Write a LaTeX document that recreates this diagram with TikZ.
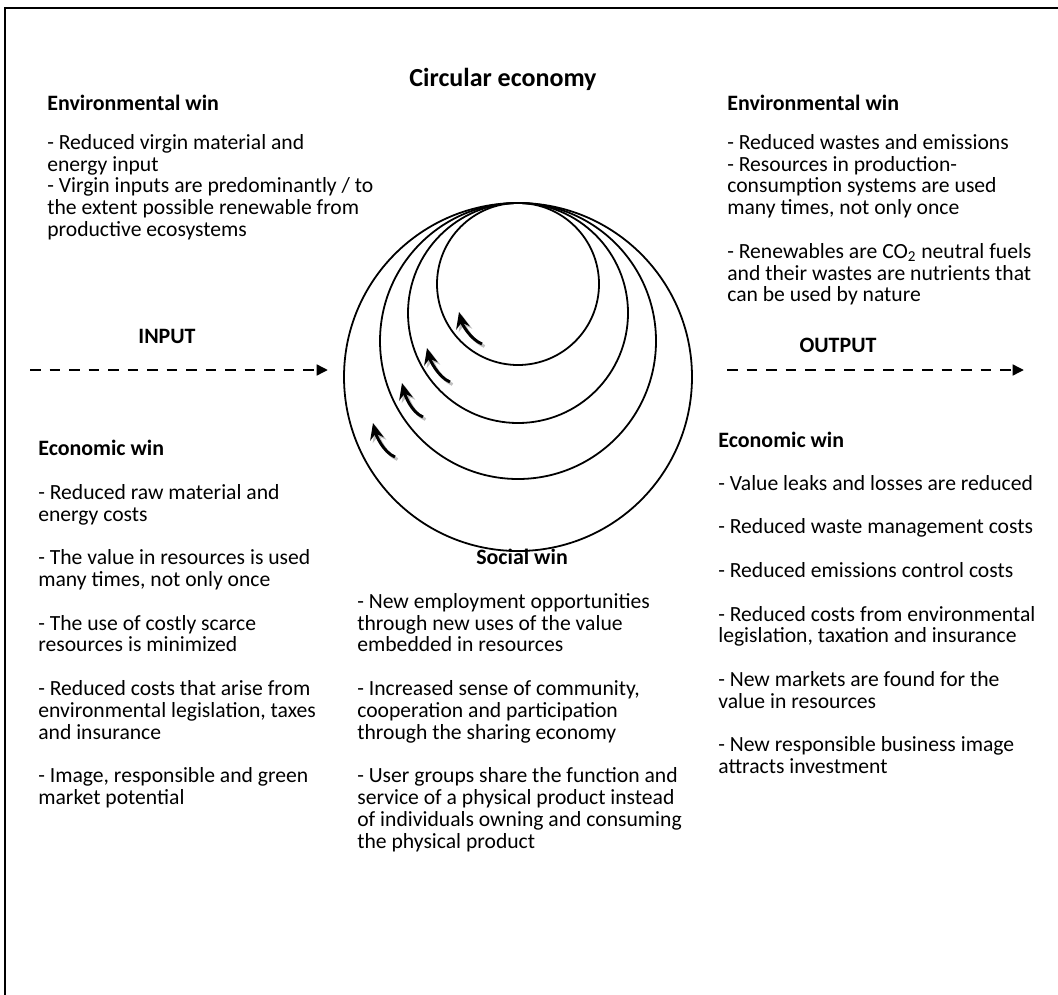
\documentclass[tikz,border=0pt]{standalone}
\usepackage{fontspec}
\setmainfont{Carlito}
\usetikzlibrary{arrows.meta}
\newcommand{\gapline}{\\[13.4pt]}
\begin{document}
\begin{tikzpicture}[x=0.615pt,y=-0.615pt,>=Stealth,
  every node/.style={inner sep=0pt,align=left,font=\fontsize{13.3}{13.4}\selectfont},
  head/.style={font=\fontsize{13.5}{14}\selectfont\bfseries},
  flow/.style={line width=1.8pt,dash pattern=on 6.5pt off 5.5pt,-{Triangle[length=7pt,width=6.5pt]}},
  loopy/.style={line width=1.8pt,-{Stealth[length=10pt,width=8.5pt]}}]
\useasboundingbox (0,0) rectangle (1058,994);
\draw[line width=1.2pt](1070,8)--(5,8)--(5,1000);

\node[font=\fontsize{16}{18}\selectfont\bfseries] (title) at (503,79) {Circular economy};

\node[head,anchor=west] (envL) at (47,103) {Environmental win};
\node[anchor=north west] (envLtxt) at (47,134) {- Reduced virgin material and\\energy input\\- Virgin inputs are predominantly / to\\the extent possible renewable from\\productive ecosystems};

\node[head,anchor=west] (envR) at (727,103) {Environmental win};
\node[anchor=north west] (envRtxt) at (727,134) {- Reduced wastes and emissions\\- Resources in production-\\consumption systems are used\\many times, not only once\gapline- Renewables are CO\textsubscript{2} neutral fuels\\and their wastes are nutrients that\\can be used by nature};

\node[head] (input) at (167,336) {INPUT};
\node[head] (output) at (838,345) {OUTPUT};
\coordinate (inA) at (30,370);
\coordinate (inB) at (328,370);
\coordinate (outA) at (727,370);
\coordinate (outB) at (1024,370);
\draw[flow](inA)--(inB);
\draw[flow](outA)--(outB);

\foreach \r in {81,110,138,174}
  \draw[line width=1.1pt](518,203+\r) circle[radius=\r];
\foreach \sx/\sy/\ex/\ey in {482/344/459/312,450/382/427/348,423/417/402/383,395/457/373/423}{
  \draw[loopy,gray!50](\sx+2.5,\sy+2.5) .. controls (\sx-9.5,\sy-2.5) and (\ex+5.5,\ey+14.5) .. (\ex+2.5,\ey+2.5);
  \draw[loopy](\sx,\sy) .. controls (\sx-12,\sy-5) and (\ex+3,\ey+12) .. (\ex,\ey);
}

\node[head,anchor=west] (ecoL) at (38,448) {Economic win};
\node[anchor=north west] (ecoLtxt) at (38,484) {- Reduced raw material and\\energy costs\gapline- The value in resources is used\\many times, not only once\gapline- The use of costly scarce\\resources is minimized\gapline- Reduced costs that arise from\\environmental legislation, taxes\\and insurance\gapline- Image, responsible and green\\market potential};

\node[head,anchor=west] (ecoR) at (718,440) {Economic win};
\node[anchor=north west] (ecoRtxt) at (718,475) {- Value leaks and losses are reduced\gapline- Reduced waste management costs\gapline- Reduced emissions control costs\gapline- Reduced costs from environmental\\legislation, taxation and insurance\gapline- New markets are found for the\\value in resources\gapline- New responsible business image\\attracts investment};

\node[head] (social) at (522,557) {Social win};
\node[anchor=north west] (socialtxt) at (357,593) {- New employment opportunities\\through new uses of the value\\embedded in resources\gapline- Increased sense of community,\\cooperation and participation\\through the sharing economy\gapline- User groups share the function and\\service of a physical product instead\\of individuals owning and consuming\\the physical product};
\end{tikzpicture}
\end{document}
